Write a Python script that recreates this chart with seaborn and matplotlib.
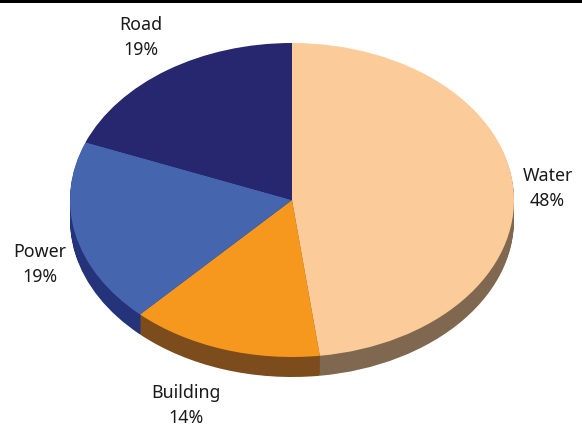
import matplotlib
matplotlib.use("Agg")
import matplotlib.pyplot as plt
from matplotlib.patches import Rectangle
import seaborn as sns

categories = ["Water", "Building", "Power", "Road"]
shares = [48, 14, 19, 19]
top_colors = ["#FBCB99", "#F6981E", "#4566AE", "#26276E"]
side_colors = ["#7F684F", "#7D4C1C", "#24337A", "#1B1C50"]

sns.set_theme(style="white")
plt.rcParams["font.family"] = ["Noto Sans", "DejaVu Sans"]

W, H = 582, 428
RX, RY = 222, 157
CX, CY = 292, 200
DEPTH = 20
squash = RX / RY  # vertical data units per pixel, tilts the disc into an ellipse

fig = plt.figure(figsize=(W / 100, H / 100), dpi=100, facecolor="white")
ax = fig.add_axes([0, 0, 1, 1])


def to_y(py):
    return (H - py) * squash


# The rim is a stack of dark discs, the face sits on top of it
for d in range(DEPTH, 0, -1):
    ax.pie(shares, radius=RX, center=(CX, to_y(CY + d)), startangle=90,
           counterclock=False, colors=sns.color_palette(side_colors),
           wedgeprops={"linewidth": 0}, frame=True)
ax.pie(shares, radius=RX, center=(CX, to_y(CY)), startangle=90,
       counterclock=False, colors=sns.color_palette(top_colors),
       wedgeprops={"linewidth": 0}, frame=True)

ax.set_aspect("auto")
ax.set_xlim(0, W)
ax.set_ylim(0, H * squash)
ax.axis("off")

# Two-line labels placed beside each slice
anchors = {"Water": (547.5, 176), "Building": (185.5, 393), "Power": (40, 252), "Road": (141, 25)}
for name, share in zip(categories, shares):
    x, y = anchors[name]
    ax.text(x, to_y(y), name, ha="center", va="center", fontsize=12.8, color="#1a1a1a")
    ax.text(x, to_y(y + 25), f"{share}%", ha="center", va="center", fontsize=12.8, color="#1a1a1a")

# Rule along the top edge
fig.add_artist(Rectangle((0, 1 - 3 / H), 1, 3 / H, transform=fig.transFigure, color="black", linewidth=0))

fig.savefig("out.png", dpi=100, facecolor="white")
